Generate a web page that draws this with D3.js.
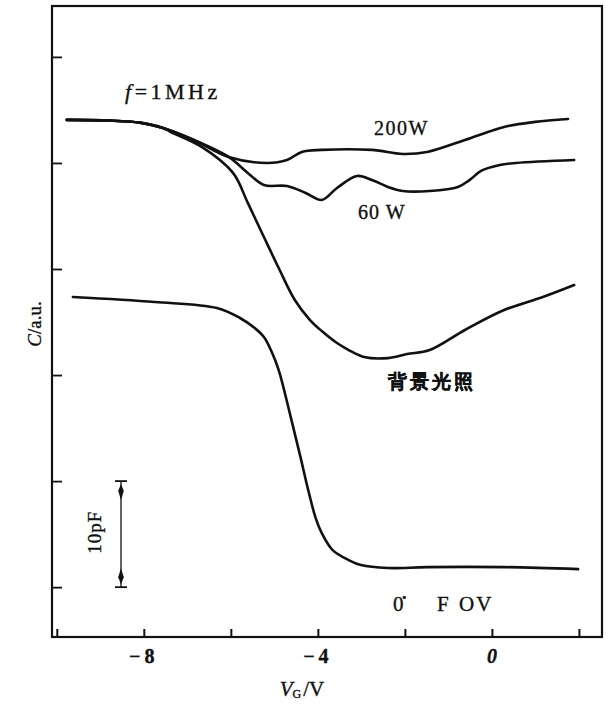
<!DOCTYPE html>
<html>
<head>
<meta charset="utf-8">
<script src="https://cdn.jsdelivr.net/npm/d3@7"></script>
<style>
  body { margin: 0; background: #fff; }
  svg { display: block; }
  text { font-family: "Liberation Serif", "DejaVu Serif", serif; fill: #111; stroke: #111; stroke-width: 0.35; }
</style>
</head>
<body>
<script>
let width = 608;
let height = 704;

// gate voltage (V) vs capacitance (pF, arbitrary offset)
const common = [
  [-9.77, 44.06], [-8.78, 44.0], [-8.09, 43.8], [-7.56, 43.3]
];
const tail200 = [
  [-6.85, 42.17], [-6.05, 40.57], [-5.17, 40.0], [-4.71, 40.28], [-4.37, 41.04],
  [-3.91, 41.23], [-2.76, 41.23], [-2.05, 40.85], [-1.49, 41.04], [-0.62, 42.17],
  [0.28, 43.4], [0.99, 43.87], [1.75, 44.15]
];
const tail60 = [
  [-6.85, 42.17], [-6.05, 40.57], [-5.61, 39.06], [-5.24, 37.92], [-4.71, 37.83],
  [-4.28, 37.17], [-3.91, 36.51], [-3.56, 37.64], [-3.10, 38.77], [-2.76, 38.4],
  [-2.39, 37.74], [-2.05, 37.36], [-1.43, 37.36], [-0.78, 37.74], [-0.51, 38.4],
  [-0.25, 39.25], [0.18, 39.81], [0.55, 40.0], [1.89, 40.28]
];
const tailBg = [
  [-7.38, 42.92], [-6.67, 41.51], [-5.95, 39.06], [-5.61, 36.23], [-5.24, 33.02],
  [-4.90, 30.09], [-4.53, 27.08], [-4.18, 25.19], [-3.91, 24.15], [-3.56, 23.02],
  [-3.29, 22.36], [-2.94, 21.7], [-2.39, 21.6], [-1.95, 21.98], [-1.43, 22.36],
  [-0.62, 24.25], [0.28, 26.13], [1.17, 27.36], [1.89, 28.49]
];
const dark = [
  [-9.63, 27.36], [-7.75, 26.89], [-6.32, 26.32], [-5.79, 25.38], [-5.45, 24.43],
  [-5.24, 23.58], [-5.06, 22.17], [-4.90, 20.47], [-4.64, 16.32], [-4.41, 12.45],
  [-4.21, 8.96], [-4.05, 6.51], [-3.91, 5.09], [-3.66, 3.49], [-3.29, 2.55],
  [-3.01, 2.08], [-2.39, 1.80], [-1.49, 1.89], [0.28, 1.89], [1.98, 1.70]
];
const xTicks = [-10, -8, -6, -4, -2, 0, 2];
const xLabels = [-8, -4, 0];
const yTicks = [0, 10, 20, 30, 40, 50];
const scaleBar = [0, 10];

let svg = d3.select('body').append('svg')
  .attr('width', width)
  .attr('height', height);

let x = d3.scaleLinear().domain([-10.11, 2.53]).range([52, 602]);
let y = d3.scaleLinear().domain([-4.7, 54.8]).range([637, 6]);

let line = d3.line()
  .x((d) => x(d[0]))
  .y((d) => y(d[1]))
  .curve(d3.curveCatmullRom.alpha(0.5));

// frame
svg.append('rect')
  .attr('x', x.range()[0]).attr('y', y.range()[1])
  .attr('width', x.range()[1] - x.range()[0])
  .attr('height', y.range()[0] - y.range()[1])
  .attr('fill', 'none').attr('stroke', '#111').attr('stroke-width', 2.2);

// ticks pointing inward
svg.append('g')
  .attr('transform', `translate(0,${y.range()[0]})`)
  .call(d3.axisTop(x).tickValues(xTicks).tickSize(8).tickFormat(''))
  .call((g) => g.select('.domain').remove())
  .selectAll('line').attr('stroke', '#111').attr('stroke-width', 2);

svg.append('g')
  .attr('transform', `translate(${x.range()[0]},0)`)
  .call(d3.axisRight(y).tickValues(yTicks).tickSize(10).tickFormat(''))
  .call((g) => g.select('.domain').remove())
  .selectAll('line').attr('stroke', '#111').attr('stroke-width', 1.8);

// x tick labels
svg.append('g').selectAll('text')
  .data(xLabels)
  .join('text')
  .attr('x', (d) => x(d))
  .attr('y', 663)
  .attr('text-anchor', 'middle')
  .attr('font-size', 20)
  .attr('font-weight', 'bold')
  .attr('letter-spacing', (d) => d < 0 ? 4 : 0)
  .attr('font-style', (d) => d === 0 ? 'italic' : 'normal')
  .text((d) => d < 0 ? '\u2212' + Math.abs(d) : d);

// axis titles
let xt = svg.append('text')
  .attr('x', 302).attr('y', 696)
  .attr('text-anchor', 'middle')
  .attr('font-size', 21);
xt.append('tspan').attr('font-style', 'italic').text('V');
xt.append('tspan').attr('font-size', 12).attr('dy', 2).text('G');
xt.append('tspan').attr('dy', -2).attr('dx', 2).text('/V');

let yt = svg.append('text')
  .attr('transform', 'translate(41,324) rotate(-90)')
  .attr('text-anchor', 'middle')
  .attr('font-size', 19);
yt.append('tspan').attr('font-style', 'italic').text('C');
yt.append('tspan').text('/a.u.');

// curves
let curves = [
  common.concat(tail200),
  common.concat(tail60),
  common.concat(tailBg),
  dark
];
svg.append('g').selectAll('path')
  .data(curves)
  .join('path')
  .attr('d', line)
  .attr('fill', 'none')
  .attr('stroke', '#111')
  .attr('stroke-width', 2.6)
  .attr('stroke-linejoin', 'round')
  .attr('stroke-linecap', 'round');

// 10 pF scale bar
let bx = 121;
let bar = svg.append('g');
bar.append('line')
  .attr('x1', bx).attr('x2', bx)
  .attr('y1', y(scaleBar[0])).attr('y2', y(scaleBar[1]))
  .attr('stroke', '#111').attr('stroke-width', 1.3);
bar.selectAll('line.cap')
  .data(scaleBar)
  .join('line').attr('class', 'cap')
  .attr('x1', bx - 6).attr('x2', bx + 6)
  .attr('y1', (d) => y(d)).attr('y2', (d) => y(d))
  .attr('stroke', '#111').attr('stroke-width', 1.8);
bar.selectAll('path.head')
  .data(scaleBar)
  .join('path').attr('class', 'head')
  .attr('d', (d) => {
    let yy = y(d);
    let s = d === 0 ? -1 : 1;
    return `M${bx},${yy + s * 3} L${bx - 2.8},${yy + s * 10} L${bx},${yy + s * 19} L${bx + 2.8},${yy + s * 10} Z`;
  })
  .attr('fill', '#111');
svg.append('text')
  .attr('transform', `translate(101,${y(5) - 2}) rotate(-90)`)
  .attr('text-anchor', 'middle')
  .attr('font-size', 19)
  .attr('letter-spacing', 1)
  .text('10pF');

// annotations
let f = svg.append('text')
  .attr('x', 125).attr('y', 99)
  .attr('font-size', 22)
  .attr('letter-spacing', 3.5);
f.append('tspan').attr('font-style', 'italic').text('f');
f.append('tspan').text('=1MHz');

svg.append('text').attr('x', 374).attr('y', 135)
  .attr('font-size', 20).attr('letter-spacing', 1.5).text('200W');
svg.append('text').attr('x', 358).attr('y', 219)
  .attr('font-size', 20).attr('letter-spacing', 1).text('60 W');
svg.append('text').attr('x', 388).attr('y', 388)
  .attr('font-family', '"Noto Sans CJK SC", sans-serif')
  .attr('font-weight', 'bold')
  .attr('font-size', 19)
  .attr('letter-spacing', 3)
  .attr('stroke-width', 0)
  .text('背景光照');

let note = svg.append('g').attr('font-size', 21);
note.append('text').attr('x', 393).attr('y', 611).text('0');
note.append('text').attr('x', 402).attr('y', 602).attr('font-size', 13).text('\u2022');
note.append('text').attr('x', 437).attr('y', 611).text('F');
note.append('text').attr('x', 459).attr('y', 611).attr('letter-spacing', 2).text('OV');
</script>
</body>
</html>
